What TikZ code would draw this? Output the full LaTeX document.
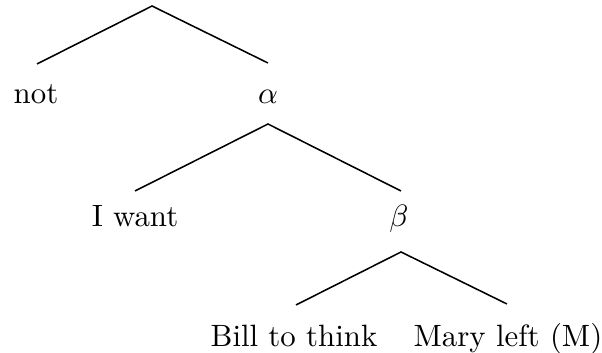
\documentclass[tikz,border=0pt]{standalone}
\usepackage{amsmath,amssymb}
\usepackage{tikz}
\usetikzlibrary{positioning}

\begin{document}
\begin{tikzpicture}[x=0.0114cm, y=-0.0114cm,
    branch/.style={line width=0.5pt},
    leaf/.style={anchor=base, inner sep=0pt}]
    \useasboundingbox (0,0) rectangle (602,353);

    % top split
    \coordinate (top) at (152,6);
    \coordinate (topL) at (37,64);
    \coordinate (topR) at (268,63);
    \node[leaf] (not) at (36,104) {not};
    \node[leaf] (alpha) at (268,104) {$\alpha$};
    \draw[branch] (topL) -- (top) -- (topR);

    % alpha split
    \coordinate (alphaTop) at (268,124);
    \coordinate (alphaL) at (135,191);
    \coordinate (alphaR) at (401,191);
    \node[leaf] (iwant) at (135,227) {I want};
    \node[leaf] (beta) at (399,227) {$\beta$};
    \draw[branch] (alphaL) -- (alphaTop) -- (alphaR);

    % beta split
    \coordinate (betaTop) at (401,252);
    \coordinate (betaL) at (296,305);
    \coordinate (betaR) at (507,304);
    \node[leaf] (bill) at (294,347) {Bill to think};
    \node[leaf] (mary) at (508,347) {Mary left (M)};
    \draw[branch] (betaL) -- (betaTop) -- (betaR);
\end{tikzpicture}
\end{document}
